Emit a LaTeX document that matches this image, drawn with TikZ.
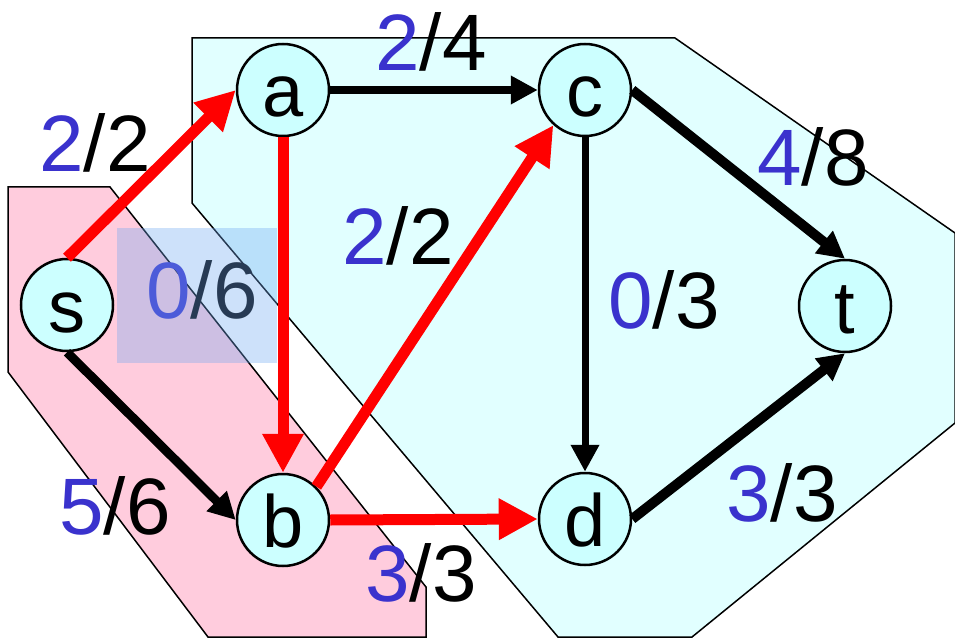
\documentclass[tikz,border=0pt]{standalone}
\usepackage{fontspec}
\setmainfont{Liberation Sans}
\usetikzlibrary{arrows.meta}
\definecolor{lblue}{RGB}{58,50,205}
\definecolor{nodecyan}{RGB}{204,255,255}
\definecolor{regcyan}{RGB}{225,255,255}
\definecolor{regpink}{RGB}{255,204,221}
\definecolor{sqblue}{RGB}{112,169,241}
\begin{document}
\begin{tikzpicture}[x=1pt,y=-1pt,
  vtx/.style={circle, draw, line width=2.5pt, fill=nodecyan, minimum size=92pt, inner sep=0pt, text height=54pt, text depth=0pt, font=\fontsize{74}{80}\selectfont},
  lbl/.style={font=\fontsize{80}{90}\selectfont, inner sep=0pt},
  redarrow/.style={draw=red, line width=11pt, -{Triangle[length=39pt,width=39pt]}},
  blackarrow/.style={draw=black, line width=8pt, -{Triangle[length=27pt,width=27pt]}},
  region/.style={draw, line width=1.5pt}]
\useasboundingbox (0,0) rectangle (955,639);
% regions
\draw[region, fill=regcyan] (192,38) -- (675,38) -- (955,233) -- (955,423) -- (692,637) -- (558,637) -- (192,203) -- cycle;
\draw[region, fill=regpink] (8,187) -- (110,187) -- (426,587) -- (426,637) -- (208,637) -- (8,372) -- cycle;
% labels
\node[lbl] (l24) at (431,42) {{\color{lblue}2}/4};
\node[lbl] (l22a) at (95,143) {{\color{lblue}2}/2};
\node[lbl] (l06) at (202,290) {{\color{lblue}0}/6};
\node[lbl] (l22b) at (398,236) {{\color{lblue}2}/2};
\node[lbl] (l03) at (664,300) {{\color{lblue}0}/3};
\node[lbl] (l48) at (813,157) {{\color{lblue}4}/8};
\node[lbl] (l56) at (115,506) {{\color{lblue}5}/6};
\node[lbl] (l33a) at (421,573) {{\color{lblue}3}/3};
\node[lbl] (l33b) at (782,493) {{\color{lblue}3}/3};
% translucent square
\fill[sqblue, fill opacity=0.35] (117,228) rectangle (277,363);
% nodes
\node[vtx] (s) at (67,305) {s};
\node[vtx] (a) at (283,90) {a};
\node[vtx] (c) at (585,90) {c};
\node[vtx] (b) at (283,520) {b};
\node[vtx] (d) at (585,519) {d};
\node[vtx] (t) at (845,306) {t};
% edges
\draw[redarrow] (s.north) -- (a.west);
\draw[redarrow] (a.south) -- (b.north);
\draw[redarrow] (b.45) -- (c.228);
\draw[redarrow] (b.east) -- (d.west);
\draw[blackarrow, line width=9pt] (s.south) -- (b.west);
\draw[blackarrow] (a.east) -- (c.west);
\draw[blackarrow, line width=7pt] (c.south) -- (d.north);
\draw[blackarrow, line width=10pt] (c.east) -- (t.north);
\draw[blackarrow, line width=10pt] (d.east) -- (t.south);
\end{tikzpicture}
\end{document}
